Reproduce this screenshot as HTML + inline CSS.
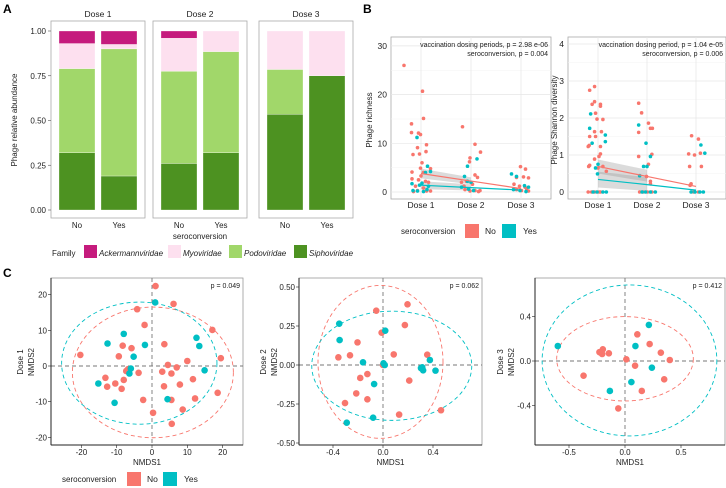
<!DOCTYPE html>
<html><head><meta charset="utf-8">
<style>
html,body{margin:0;padding:0;background:#fff;}
svg{display:block;font-family:"Liberation Sans",Arial,sans-serif;}
</style></head>
<body>
<svg id="fig" width="726" height="488" viewBox="0 0 726 488" xmlns="http://www.w3.org/2000/svg"></svg>
<script>
// ---------- Panel A data ----------
const aDoses = ["Dose 1","Dose 2","Dose 3"];
const aGroups = ["No","Yes"];
const aFamilies = ["Siphoviridae","Podoviridae","Myoviridae","Ackermannviridae"];
const aSipho = [0.32,0.19, 0.26,0.32, 0.535,0.75];
const aPodo  = [0.47,0.71, 0.515,0.565, 0.25,0.0];
const aMyo   = [0.14,0.025, 0.185,0.115, 0.215,0.25];
const aAcker = [0.07,0.075, 0.04,0.0, 0.0,0.0];
const aTicks = ["0.00","0.25","0.50","0.75","1.00"];
const famColors = {Siphoviridae:"#4d9221",Podoviridae:"#a1d76a",Myoviridae:"#fde0ef",Ackermannviridae:"#c51b7d"};

// ---------- Panel B data: [dose index, jitter, value] ----------
const richNo = [[0,-0.34,26],[0,0.03,20.7],[0,0.05,15.1],[0,-0.19,14],[0,-0.19,12.2],[0,-0.05,12.1],[0,-0.01,11.8],[0,-0.07,9.1],[0,0.11,9.7],[0,-0.03,7.8],[0,-0.16,7.7],[0,0.1,8.3],[0,0.02,6],[0,-0.18,4.1],[0,-0.01,4.9],[0,0.19,4.8],[0,0.05,4],[0,0,3.3],[0,-0.18,2.7],[0,-0.05,2.5],[0,0.09,2.2],[0,0.15,2],[0,-0.11,1.2],[0,0.05,0.8],[0,-0.07,0.3],[0,0.11,0.2],[0,0.19,0.2],[0,-0.15,0.1],
[1,-0.17,13.4],[1,0.08,9.8],[1,0.19,8.2],[1,-0.02,7],[1,-0.03,6.2],[1,0.08,3.5],[1,0.13,3],[1,-0.09,2.2],[1,-0.19,2],[1,0.03,1.6],[1,-0.14,1.2],[1,-0.12,0.5],[1,0.08,0.3],[1,-0.02,0.2],[1,0.15,0.1],[1,0.18,0.3],
[2,-0.01,5.2],[2,0.09,4.7],[2,-0.09,3],[2,0.05,3.1],[2,0.15,2.9],[2,-0.14,1.6],[2,-0.03,1.2],[2,0.08,1],[2,-0.09,0.5],[2,0.01,0.3],[2,0.15,0.2],[2,0.11,0.7]];
const richYes = [[0,-0.08,11.2],[0,-0.18,1.7],[0,0.13,5.3],[0,0.19,4.2],[0,0.09,4],[0,0.02,1.8],[0,-0.03,1.4],[0,0.15,1.2],[0,-0.16,0.3],[0,-0.07,0.2],[0,0.05,0.1],[0,0.12,0.5],
[1,0.12,6.8],[1,-0.07,5.3],[1,-0.13,3.2],[1,-0.07,2.2],[1,0,2],[1,-0.19,1],[1,-0.05,0.6],[1,0.05,0.3],
[2,-0.19,3.7],[2,-0.09,3.2],[2,0.07,1.3],[2,0.15,1],[2,-0.15,0.5],[2,-0.02,0.3],[2,0.1,0.1]];
const shanNo = [[0,-0.17,2.75],[0,-0.07,2.85],[0,-0.07,2.44],[0,-0.12,2.37],[0,0.05,2.37],[0,0.05,2.32],[0,-0.05,2.13],[0,-0.02,1.97],[0,0.1,1.96],[0,-0.17,1.5],[0,-0.07,1.63],[0,0.07,1.63],[0,-0.05,1.5],[0,-0.2,1.23],[0,-0.18,1.26],[0,0.05,1.23],[0,0.05,1.03],[0,-0.07,0.89],[0,0.02,0.96],[0,-0.17,0.72],[0,-0.19,0.69],[0,0.1,0.69],[0,0,0.65],[0,0.17,0.56],[0,-0.2,0],[0,-0.13,0],[0,-0.07,0],[0,0.02,0],[0,0.05,0],
[1,-0.17,2.4],[1,-0.11,2.14],[1,0.03,1.86],[1,0.07,1.72],[1,0.11,1.72],[1,-0.17,1.61],[1,-0.17,0.96],[1,0.1,1.02],[1,0.03,0.75],[1,0.07,0.29],[1,0.07,0.22],[1,-0.01,0.42],[1,-0.15,0],[1,-0.08,0],[1,0.01,0],[1,0.1,0],
[2,-0.09,1.52],[2,0.05,1.43],[2,-0.15,1.03],[2,-0.03,1],[2,0.09,1.05],[2,-0.13,0.69],[2,0.11,0.69],[2,-0.1,0.22],[2,-0.12,0.18],[2,-0.05,0],[2,0.05,0]];
const shanYes = [[0,-0.17,1.72],[0,-0.15,2.11],[0,0.15,1.54],[0,0.15,1.36],[0,-0.12,1.32],[0,-0.05,0.65],[0,0,0.75],[0,-0.01,0.49],[0,-0.1,0],[0,-0.02,0],[0,0.1,0],[0,0.17,0],
[1,-0.17,1.81],[1,-0.02,1.32],[1,0.07,0.96],[1,-0.07,0.69],[1,0,0.69],[1,-0.15,0.44],[1,-0.1,0],[1,-0.03,0],[1,0.07,0],[1,0.17,0],
[2,0.1,1.27],[2,0.18,1.05],[2,-0.1,0],[2,-0.02,0],[2,0.08,0],[2,0.15,0]];
const bDoses = ["Dose 1","Dose 2","Dose 3"];
const richTicks = [0,10,20,30];
const shanTicks = [0,1,2,3,4];
const richFitNo = [3.8,2.25,0.7], richFitYes = [1.4,0.9,0.4];
const richBandNo = [[2.8,4.8],[1.6,3.0]], richBandYes = [[0.6,2.2],[0.3,1.6]];
const shanFitNo = [0.69,0.42,0.15], shanFitYes = [0.34,0.2,0.05];
const shanBandNo = [[0.5,0.88],[0.28,0.6]], shanBandYes = [[0.12,0.55],[0.03,0.4]];

// ---------- Panel C data: [x, y] ----------
const c1No = [[1,22.4],[6.1,17.4],[-4.2,15.9],[-2.1,11.5],[17.1,10.1],[3.5,6.1],[-8.3,5.7],[-5.8,5],[-20.3,3.1],[-9.4,2.7],[19.5,2.2],[10,1.4],[4.5,0.3],[7,-0.4],[-7.3,-1.4],[-3.8,-1.9],[2.9,-1.6],[5.5,-2.1],[-13.2,-3.3],[-8,-3.9],[-12.7,-5.8],[-10.4,-4.9],[3.4,-5.7],[7.9,-5.2],[11.6,-3.7],[-8.6,-6.4],[-2.5,-9.5],[5.5,-9.5],[12.2,-9.1],[18.6,-7.5],[8.7,-12.2],[0.3,-13.1],[5.6,-16.2],[-6.8,-0.9]];
const c1Yes = [[0.9,17.8],[-8,9],[-12.6,6.3],[-2,5.9],[13.4,5.6],[12.6,7.9],[-5.2,2.6],[-6,-0.7],[-6.4,-2.1],[14.9,-1.2],[-15.2,-4.9],[4.4,-9.3],[-10.6,-10.3]];
const c2No = [[-0.054,0.348],[0.196,0.389],[0.175,0.256],[-0.011,0.207],[-0.204,0.145],[0.086,0.068],[-0.357,0.049],[-0.264,0.062],[0.354,0.066],[0,0],[-0.125,-0.058],[-0.182,-0.083],[0.21,-0.1],[-0.214,-0.182],[-0.125,-0.22],[-0.304,-0.244],[0.129,-0.318],[0.464,-0.29]];
const c2Yes = [[-0.35,0.265],[-0.347,0.16],[0.018,0.22],[-0.16,0.017],[0.004,0.011],[0.014,0],[0.375,0.032],[0.314,-0.015],[0.321,-0.034],[0.304,-0.02],[0.42,-0.036],[-0.071,-0.122],[-0.079,-0.338],[-0.29,-0.37]];
const c3No = [[0.11,0.24],[0.22,0.153],[0.32,0.075],[0.4,0.009],[0.012,0.015],[0.09,-0.042],[0.35,-0.165],[0.15,-0.27],[-0.06,-0.427],[-0.37,-0.132],[-0.144,0.069],[-0.216,0.075],[-0.198,0.105],[-0.204,0.063],[-0.228,0.08]];
const c3Yes = [[-0.6,0.135],[0.213,0.325],[0.093,0.135],[0.24,-0.06],[0.057,-0.19],[-0.135,-0.27]];
// ellipses [cx, cy, rx, ry]
const c1Ell = {No:[0.25,-1.8,22.8,18.3], Yes:[-3.6,0.8,22,17.1]};
const c2Ell = {No:[-0.02,0.02,0.5,0.49], Yes:[0.07,-0.005,0.64,0.35]};
const c3Ell = {No:[0,0.02,0.61,0.38], Yes:[0.04,0.005,0.78,0.68]};
const c1Ticks = {x:[-20,-10,0,10,20], y:[-20,-10,0,10,20]};
const c2Ticks = {x:[-0.4,0,0.4], y:[-0.5,-0.25,0,0.25,0.5]};
const c3Ticks = {x:[-0.5,0,0.5], y:[-0.4,0,0.4]};
const pvals = ["p = 0.049","p = 0.062","p = 0.412"];

const RED="#F8766D", CYAN="#00BFC4";
const svg=document.getElementById('fig');
const NS="http://www.w3.org/2000/svg";
function mk(tag,attrs,parent){const e=document.createElementNS(NS,tag);for(const k in attrs)e.setAttribute(k,attrs[k]);(parent||svg).appendChild(e);return e;}
function txt(s,x,y,attrs,parent){const e=mk('text',Object.assign({x:x,y:y,'font-size':8,fill:'#222'},attrs||{}),parent);e.textContent=s;return e;}

// ===== Panel A =====
let t=txt("A",3,13,{'font-size':12,'font-weight':'bold',fill:'#000'});


const aY=v=>210-v*179;
const aBox=[51,153,259];
aDoses.forEach((d,di)=>{
  const x0=aBox[di];
  const g=mk('g',{});
  
  
  mk('rect',{x:x0,y:21,width:94,height:197,fill:'#fff',stroke:'#aaa','stroke-width':0.8},g);
  let s=txt(d,x0+47,17,{'text-anchor':'middle','font-size':8.5},g);
  
  
  aGroups.forEach((gr,gi)=>{
    const idx=di*2+gi;
    const cx=x0+26+gi*42;
    const vals=[aSipho[idx],aPodo[idx],aMyo[idx],aAcker[idx]];
    let cum=0;
    vals.forEach((v,fi)=>{
      if(v<=0)return;
      const r=mk('rect',{x:cx-18,y:aY(cum+v),width:36,height:aY(cum)-aY(cum+v),fill:famColors[aFamilies[fi]],stroke:'#fff','stroke-width':0.3},g);
      
      
      cum+=v;
    });
    const l=txt(gr,cx,228,{'text-anchor':'middle','font-size':8},g);
    
    
  });
});
aTicks.forEach(tk=>{
  const y=aY(parseFloat(tk));
  const l=txt(tk,46,y+3,{'text-anchor':'end','font-size':8});
  
  
  mk('line',{x1:48,x2:51,y1:y,y2:y,stroke:'#555','stroke-width':0.6});
});
t=txt("Phage relative abundance",0,0,{'text-anchor':'middle','font-size':8,transform:'translate(17,120) rotate(-90)'});


t=txt("seroconversion",200,239,{'text-anchor':'middle','font-size':8});


// legend A
const legA=mk('g',{});


txt("Family",52,256,{'font-size':8},legA);
const legAX=[84,168,229,294];
["Ackermannviridae","Myoviridae","Podoviridae","Siphoviridae"].forEach((f,i)=>{
  const r=mk('rect',{x:legAX[i],y:245,width:13,height:13,fill:famColors[f]},legA);
  
  
  txt(f,legAX[i]+15,256,{'font-size':8,'font-style':'italic'},legA);
});

// ===== Panel B =====
t=txt("B",363,13,{'font-size':12,'font-weight':'bold',fill:'#000'});


function bPlot(name,x0,x1,cats,yMax,yScale,ticks,ptsNo,ptsYes,fitNo,fitYes,bandNo,bandYes,ann1,ann2,ytitle,ytx){
  const g=mk('g',{});
  
  
  const Y=v=>192-v*yScale;
  const X=(d,j)=>cats[0]+(cats[1]-cats[0])*(d+j);
  mk('rect',{x:x0,y:37,width:x1-x0,height:162,fill:'#fff',stroke:'#aaa','stroke-width':0.8},g);
  ticks.forEach((tk,i)=>{
    if(i<ticks.length-1) mk('line',{x1:x0,x2:x1,y1:Y((tk+ticks[i+1])/2),y2:Y((tk+ticks[i+1])/2),stroke:'#f3f3f3','stroke-width':0.5},g);
    mk('line',{x1:x0,x2:x1,y1:Y(tk),y2:Y(tk),stroke:'#e6e6e6','stroke-width':0.7},g);
    const l=txt(String(tk),x0-4,Y(tk)+3,{'text-anchor':'end','font-size':8.5},g);
    
    
  });
  bDoses.forEach((d,i)=>{
    mk('line',{x1:X(i,0),x2:X(i,0),y1:37,y2:199,stroke:'#e6e6e6','stroke-width':0.7},g);
    const l=txt(d,X(i,0),208,{'text-anchor':'middle','font-size':8.5},g);
    
    
  });
  [bandNo,bandYes].forEach(b=>{
    const p=mk('polygon',{points:`${X(0,0)},${Y(b[0][1])} ${X(1,0)},${Y(b[1][1])} ${X(1,0)},${Y(b[1][0])} ${X(0,0)},${Y(b[0][0])}`,fill:'#999','fill-opacity':0.35},g);
    
    
  });
  [[ptsNo,RED],[ptsYes,CYAN]].forEach(([pts,c])=>{
    pts.forEach(p=>{
      const ci=mk('circle',{cx:X(p[0],p[1]),cy:Y(p[2]),r:1.8,fill:c},g);
      
      
    });
  });
  [[fitNo,RED],[fitYes,CYAN]].forEach(([f,c])=>{
    const pl=mk('polyline',{points:f.map((v,i)=>X(i,0)+','+Y(v)).join(' '),fill:'none',stroke:c,'stroke-width':1.2},g);
    
    
  });
  let a=txt(ann1,x1-3,47,{'text-anchor':'end','font-size':7},g);
  
  
  a=txt(ann2,x1-3,56,{'text-anchor':'end','font-size':7},g);
  
  
  a=txt(ytitle,0,0,{'text-anchor':'middle','font-size':8,transform:`translate(${ytx},120) rotate(-90)`},g);
  
  
}
bPlot('richness-plot',391,551,[421,471],30,4.87,richTicks,richNo,richYes,richFitNo,richFitYes,richBandNo,richBandYes,"vaccination dosing periods, p = 2.98 e-06","seroconversion, p = 0.004","Phage richness",372);
bPlot('shannon-plot',568,726,[598,647],4,37,shanTicks,shanNo,shanYes,shanFitNo,shanFitYes,shanBandNo,shanBandYes,"vaccination dosing period, p = 1.04 e-05","seroconversion, p = 0.006","Phage Shannon diversity",557);
const legB=mk('g',{});


txt("seroconversion",401,234,{'font-size':8},legB);
let sw=mk('rect',{x:465,y:224,width:14,height:14,fill:RED},legB);


txt("No",485,234,{'font-size':8.5},legB);
sw=mk('rect',{x:502,y:224,width:14,height:14,fill:CYAN},legB);


txt("Yes",523,234,{'font-size':8.5},legB);

// ===== Panel C =====
t=txt("C",3,277,{'font-size':12,'font-weight':'bold',fill:'#000'});


function cPlot(name,x0,x1,cx0,sx,cy0,sy,ticks,no,yes,ell,dose,pv,tfmt,dOff,nOff){
  const g=mk('g',{});
  
  
  const X=v=>cx0+v*sx, Y=v=>cy0-v*sy;
  const top=278,bot=445;
  const clip=mk('clipPath',{id:'clip-'+name},g);
  mk('rect',{x:x0,y:top,width:x1-x0,height:bot-top},clip);
  mk('rect',{x:x0,y:top,width:x1-x0,height:bot-top,fill:'#fff',stroke:'#999','stroke-width':0.8},g);
  const inner=mk('g',{'clip-path':`url(#clip-${name})`},g);
  mk('line',{x1:X(0),x2:X(0),y1:top,y2:bot,stroke:'#777','stroke-width':0.9,'stroke-dasharray':'4,3'},inner);
  mk('line',{x1:x0,x2:x1,y1:Y(0),y2:Y(0),stroke:'#777','stroke-width':0.9,'stroke-dasharray':'4,3'},inner);
  [['No',RED],['Yes',CYAN]].forEach(([k,c])=>{
    const e=ell[k];
    const el=mk('ellipse',{cx:X(e[0]),cy:Y(e[1]),rx:e[2]*sx,ry:e[3]*sy,fill:'none',stroke:c,'stroke-width':0.9,'stroke-dasharray':'4,3'},inner);
    
    
  });
  [[no,RED],[yes,CYAN]].forEach(([pts,c])=>{
    pts.forEach(p=>{
      const ci=mk('circle',{cx:X(p[0]),cy:Y(p[1]),r:3.3,fill:c},inner);
      
      
    });
  });
  mk('line',{x1:x0,x2:x0,y1:top,y2:bot,stroke:'#222','stroke-width':1},g);
  mk('line',{x1:x0,x2:x1,y1:bot,y2:bot,stroke:'#222','stroke-width':1},g);
  ticks.x.forEach(v=>{
    mk('line',{x1:X(v),x2:X(v),y1:bot,y2:bot+3,stroke:'#222','stroke-width':0.6},g);
    const l=txt(tfmt(v),X(v),455,{'text-anchor':'middle','font-size':8},g);
    
    
  });
  ticks.y.forEach(v=>{
    mk('line',{x1:x0-3,x2:x0,y1:Y(v),y2:Y(v),stroke:'#222','stroke-width':0.6},g);
    const l=txt(tfmt(v,true),x0-4,Y(v)+3,{'text-anchor':'end','font-size':8},g);
    
    
  });
  let a=txt(pv,x1-3,288,{'text-anchor':'end','font-size':7},g);
  
  
  a=txt("NMDS1",(x0+x1)/2,465,{'text-anchor':'middle','font-size':8},g);
  
  
  a=txt(dose,0,0,{'text-anchor':'middle','font-size':8,transform:`translate(${x0-dOff},362) rotate(-90)`},g);
  
  
  a=txt("NMDS2",0,0,{'text-anchor':'middle','font-size':8,transform:`translate(${x0-nOff},362) rotate(-90)`},g);
  
  
}
const fmtInt=v=>String(v);
cPlot('nmds-dose1',51,243,152,3.53,366,3.57,c1Ticks,c1No,c1Yes,c1Ell,"Dose 1",pvals[0],fmtInt,28,17);
cPlot('nmds-dose2',299,482,383,125,365,156,c2Ticks,c2No,c2Yes,c2Ell,"Dose 2",pvals[1],(v,isY)=>isY?v.toFixed(2):v.toFixed(1),33,22);
cPlot('nmds-dose3',535,725,625,112,361,111,c3Ticks,c3No,c3Yes,c3Ell,"Dose 3",pvals[2],v=>v.toFixed(1),32,21);
const legC=mk('g',{});


txt("seroconversion",62,482,{'font-size':8},legC);
sw=mk('rect',{x:127,y:472,width:14,height:14,fill:RED},legC);


txt("No",147,482,{'font-size':8.5},legC);
sw=mk('rect',{x:163,y:472,width:14,height:14,fill:CYAN},legC);


txt("Yes",184,482,{'font-size':8.5},legC);
</script>
</body></html>
